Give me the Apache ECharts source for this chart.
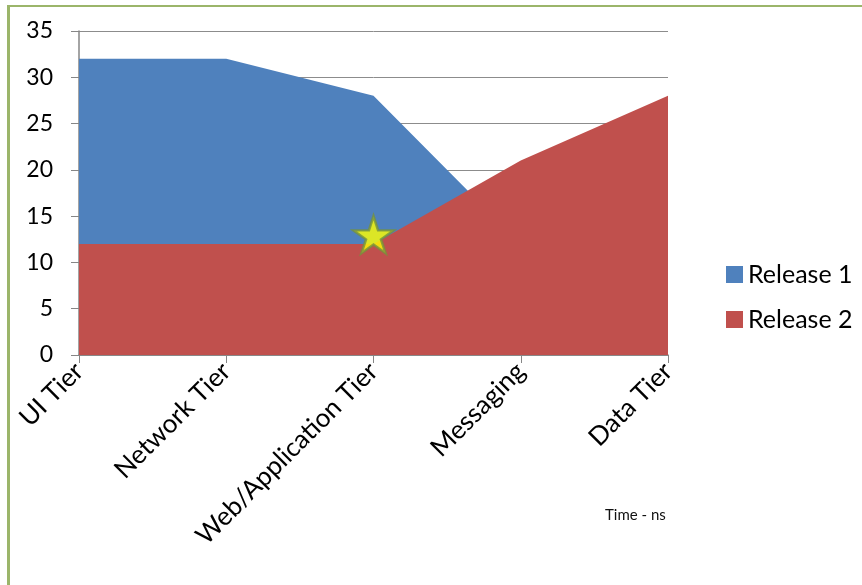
<!DOCTYPE html>
<html>
<head>
<meta charset="utf-8">
<script src="https://cdn.jsdelivr.net/npm/echarts@6/dist/echarts.min.js"></script>
<style>
  html, body { margin: 0; padding: 0; background: #fff; }
  .frame {
    position: absolute; left: 7px; top: 5px; width: 855px; height: 580px;
    border-top: 2px solid #9bb56a; border-left: 3px solid #9bb56a;
  }
  #main { position: absolute; left: 0; top: 0; width: 862px; height: 585px; }
</style>
</head>
<body>
<div class="frame"></div>
<div id="main"></div>
<script>
// 数据
var tiers = ["UI Tier", "Network Tier", "Web/Application Tier", "Messaging", "Data Tier"];
var release1 = [32, 32, 28, 12, 10];
var release2 = [12, 12, 12, 21, 28];
var starPoint = [null, null, 13, null, null];
var yTicks = [0, 5, 10, 15, 20, 25, 30, 35];

var starPath = "path://M50,0 L61,35 L98,35 L68,57 L79,91 L50,70 L21,91 L32,57 L2,35 L39,35 Z";
var fontName = "Lato, 'Open Sans', sans-serif";

var myChart = echarts.init(document.getElementById("main"));
myChart.setOption({
  animation: false,
  grid: { left: 79, right: 194, top: 31, bottom: 230 },
  legend: {
    data: ["Release 1", "Release 2"],
    orient: "vertical",
    left: 721,
    top: 257,
    itemWidth: 17,
    itemHeight: 17,
    itemGap: 20,
    icon: "rect",
    textStyle: { fontSize: 25, color: "#000", fontFamily: fontName }
  },
  xAxis: {
    type: "category",
    data: tiers,
    boundaryGap: false,
    axisLine: { lineStyle: { color: "#868686", width: 1.5 } },
    axisTick: { show: true, alignWithLabel: true, length: 8, lineStyle: { color: "#868686" } },
    axisLabel: { rotate: 45, margin: 12, fontSize: 26, color: "#000", fontFamily: fontName, interval: 0 }
  },
  yAxis: {
    type: "value",
    min: 0,
    max: yTicks[yTicks.length - 1],
    interval: 5,
    axisLine: { show: true, lineStyle: { color: "#868686", width: 1.5 } },
    axisTick: { show: true, length: 8, lineStyle: { color: "#868686" } },
    axisLabel: { margin: 26, fontSize: 23, color: "#000", fontFamily: fontName },
    splitLine: { show: true, lineStyle: { color: "#8c8c8c", width: 1 } }
  },
  graphic: [
    {
      type: "text",
      left: 605,
      top: 508,
      style: { text: "Time - ns", fontSize: 15, fill: "#111", fontFamily: fontName }
    }
  ],
  series: [
    {
      name: "Release 1",
      type: "line",
      data: release1,
      symbol: "none",
      lineStyle: { width: 0 },
      itemStyle: { color: "#4f81bd" },
      areaStyle: { color: "#4f81bd", opacity: 1 }
    },
    {
      name: "Release 2",
      type: "line",
      data: release2,
      symbol: "none",
      lineStyle: { width: 0 },
      itemStyle: { color: "#c0504d" },
      areaStyle: { color: "#c0504d", opacity: 1 }
    },
    {
      name: "star",
      type: "scatter",
      data: starPoint,
      symbol: starPath,
      symbolSize: [40, 37],
      itemStyle: { color: "#ffff00", borderColor: "#76923c", borderWidth: 2.5 },
      z: 5
    }
  ]
});
</script>
</body>
</html>
